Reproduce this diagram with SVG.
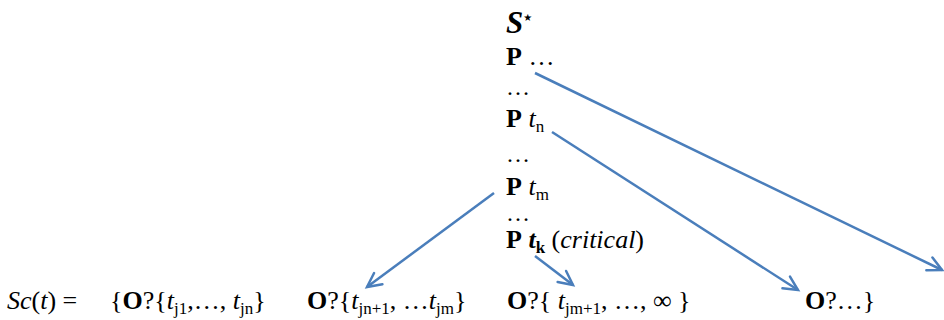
<svg xmlns="http://www.w3.org/2000/svg" width="944" height="320" viewBox="0 0 944 320">
<style>
text { font-family: "Liberation Serif", "Times New Roman", serif; font-size: 26px; fill: #000; }
.b { font-weight: bold; }
.i { font-style: italic; }
.sub { font-size: 17px; }
.dots { font-size: 24px; }
.conn line { stroke: #4A7EBB; stroke-width: 2.5; fill: none; }
</style>
<defs>
<marker id="arr" viewBox="0 0 20 20" markerWidth="20" markerHeight="20" refX="17" refY="10" orient="auto" markerUnits="userSpaceOnUse">
<path d="M3,3 L17,10 L3,17" fill="none" stroke="#4A7EBB" stroke-width="2.5" stroke-linecap="round"/>
</marker>
</defs>
<g id="column">
<text x="506" y="33"><tspan class="b i" font-size="31">S</tspan><tspan font-family="DejaVu Sans, sans-serif" font-size="10" dy="-12">★</tspan></text>
<text x="506" y="65"><tspan class="b">P</tspan> …</text>
<text class="dots" x="506" y="95">…</text>
<text x="506" y="127"><tspan class="b">P</tspan> <tspan class="i">t</tspan><tspan class="sub" dy="5">n</tspan></text>
<text class="dots" x="506" y="162">…</text>
<text x="506" y="195"><tspan class="b">P</tspan> <tspan class="i">t</tspan><tspan class="sub" dy="5">m</tspan></text>
<text class="dots" x="506" y="221">…</text>
<text x="506" y="248"><tspan class="b">P</tspan> <tspan class="b i">t</tspan><tspan class="b sub" dy="5">k</tspan><tspan dy="-5"> (</tspan><tspan class="i">critical</tspan>)</text>
</g>
<g id="sc">
<text x="7" y="309"><tspan class="i">Sc</tspan>(<tspan class="i">t</tspan>) =</text>
</g>
<g id="set1">
<text x="110" y="309">{<tspan class="b">O</tspan>?{<tspan class="i">t</tspan><tspan class="sub" dy="5">j1</tspan><tspan dy="-5">,…, </tspan><tspan class="i">t</tspan><tspan class="sub" dy="5">jn</tspan><tspan dy="-5">}</tspan></text>
</g>
<g id="set2">
<text x="307" y="309"><tspan class="b">O</tspan>?{<tspan class="i">t</tspan><tspan class="sub" dy="5">jn+1</tspan><tspan dy="-5">, …</tspan><tspan class="i">t</tspan><tspan class="sub" dy="5">jm</tspan><tspan dy="-5">}</tspan></text>
</g>
<g id="set3">
<text x="507" y="309"><tspan class="b">O</tspan>?{ <tspan class="i">t</tspan><tspan class="sub" dy="5">jm+1</tspan><tspan dy="-5">, …, ∞ }</tspan></text>
</g>
<g id="set4">
<text x="805" y="309"><tspan class="b">O</tspan>?…}</text>
</g>
<g class="conn" id="connectors">
<line x1="535" y1="73" x2="942" y2="270" marker-end="url(#arr)"/>
<line x1="552" y1="132" x2="798" y2="290" marker-end="url(#arr)"/>
<line x1="494" y1="193" x2="367" y2="287" marker-end="url(#arr)"/>
<line x1="535" y1="256" x2="573" y2="285" marker-end="url(#arr)"/>
</g>
</svg>
